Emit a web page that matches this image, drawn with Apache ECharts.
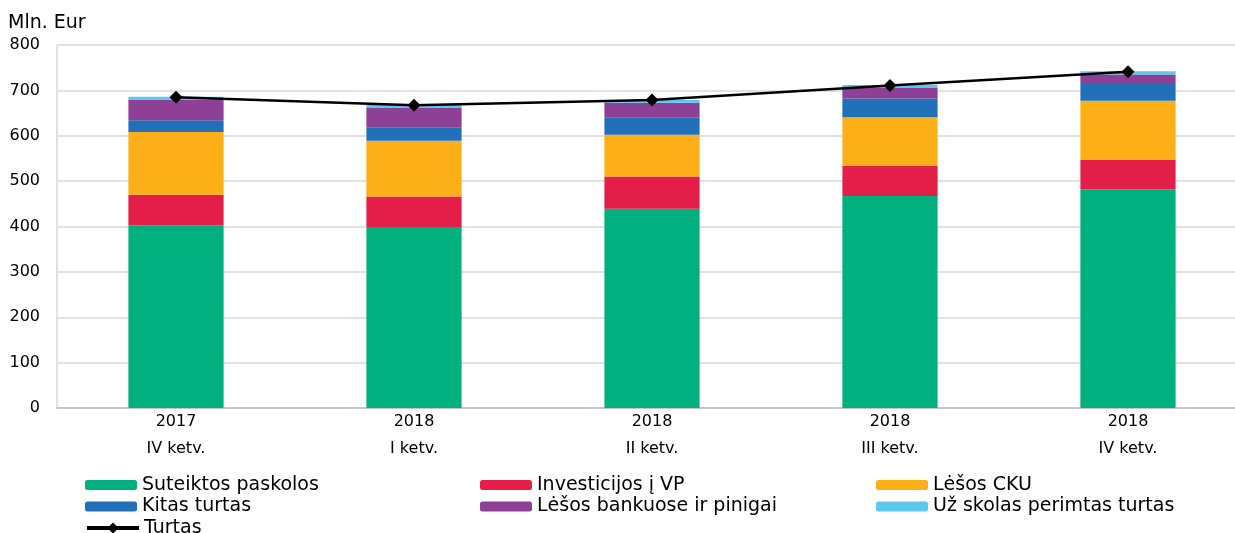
<!DOCTYPE html>
<html>
<head>
<meta charset="utf-8">
<script src="https://cdn.jsdelivr.net/npm/echarts@6/dist/echarts.min.js"></script>
<style>
  html, body { margin: 0; padding: 0; background: #fff; overflow: hidden; }
  #chart-container { width: 1247px; height: 533px; }
</style>
</head>
<body>
<div id="chart-container"></div>
<script>
var categories = ['2017\nIV ketv.', '2018\nI ketv.', '2018\nII ketv.', '2018\nIII ketv.', '2018\nIV ketv.'];
var paskolos = [403, 399, 439, 467, 482];
var investicijos = [67, 67, 71, 67, 65];
var cku = [138, 123, 92, 107, 130];
var kitas = [26, 30, 39, 41, 37];
var bankuose = [45, 43, 32, 23, 21];
var perimtas = [7, 6, 6, 7, 7];
var turtas = [685, 667, 679, 711, 741];
var yTicks = [0, 100, 200, 300, 400, 500, 600, 700, 800];

// the plot area runs a little past the right edge of the picture
var dom = document.getElementById('chart-container');
var myChart = echarts.init(dom, null, { renderer: 'canvas' });
var font = 'DejaVu Sans';

function bar(name, data, color) {
  return {
    name: name,
    type: 'bar',
    stack: 'total',
    barWidth: '40%',
    data: data,
    itemStyle: { color: color },
    emphasis: { disabled: true }
  };
}

function legend(left, top, names) {
  return {
    orient: 'vertical',
    left: left,
    top: top,
    padding: 0,
    itemWidth: 52,
    itemHeight: 10,
    itemGap: 2.5,
    data: names,
    textStyle: { fontFamily: font, fontSize: 19, color: '#000', lineHeight: 19 }
  };
}

var turtasLegend = legend(85, 518.5, ['Turtas']);
turtasLegend.lineStyle = { width: 4 };
turtasLegend.itemHeight = 14;

var option = {
  animation: false,
  textStyle: { fontFamily: font },
  graphic: [
    { type: 'text', left: 8, top: 14, style: { text: 'Mln. Eur', font: '19px "DejaVu Sans"', fill: '#000' } }
  ],
  grid: { left: 57, top: 45, bottom: 125, right: 0 },
  legend: [
    legend(85, 475.5, ['Suteiktos paskolos', 'Kitas turtas']),
    turtasLegend,
    legend(480, 475.5, ['Investicijos į VP', 'Lėšos bankuose ir pinigai']),
    legend(876, 475.5, ['Lėšos CKU', 'Už skolas perimtas turtas'])
  ],
  xAxis: {
    type: 'category',
    data: categories,
    axisTick: { show: false },
    axisLine: { lineStyle: { color: '#bfbfbf', width: 1.5 } },
    axisLabel: { fontFamily: font, fontSize: 16, color: '#000', lineHeight: 27, margin: 0 }
  },
  yAxis: {
    type: 'value',
    min: yTicks[0],
    max: yTicks[yTicks.length - 1],
    interval: 100,
    axisLine: { show: true, lineStyle: { color: '#d9d9d9', width: 1.5 } },
    axisTick: { show: false },
    splitLine: { lineStyle: { color: '#d9d9d9', width: 1.5 } },
    axisLabel: { fontFamily: font, fontSize: 16, color: '#000', margin: 17 }
  },
  series: [
    bar('Suteiktos paskolos', paskolos, '#00b07f'),
    bar('Investicijos į VP', investicijos, '#e31e48'),
    bar('Lėšos CKU', cku, '#fcaf17'),
    bar('Kitas turtas', kitas, '#2270b8'),
    bar('Lėšos bankuose ir pinigai', bankuose, '#8e3f96'),
    bar('Už skolas perimtas turtas', perimtas, '#5bc8f0'),
    {
      name: 'Turtas',
      type: 'line',
      data: turtas,
      symbol: 'diamond',
      symbolSize: 13,
      z: 5,
      lineStyle: { color: '#000', width: 2.5 },
      itemStyle: { color: '#000' },
      emphasis: { disabled: true }
    }
  ]
};

myChart.setOption(option);
window.addEventListener('resize', myChart.resize);
</script>
</body>
</html>
